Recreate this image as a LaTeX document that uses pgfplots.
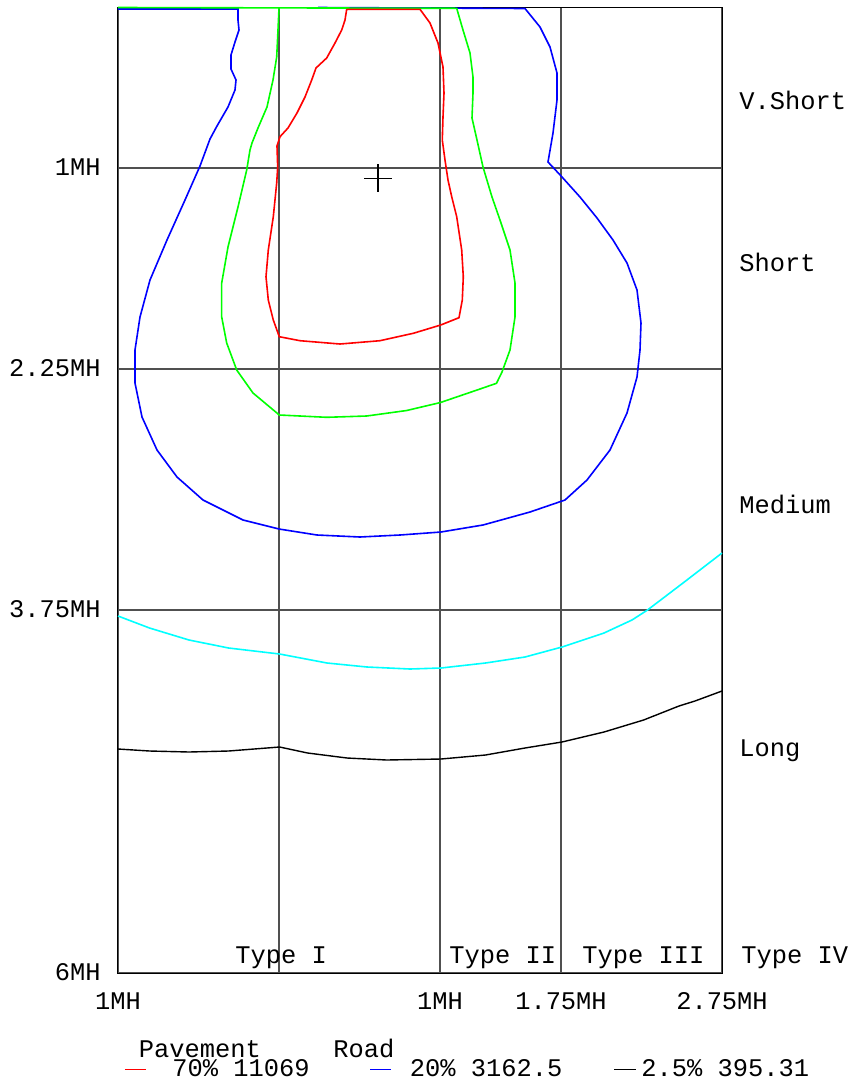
\documentclass[border=0pt]{standalone}
\usepackage{fontspec}
\setmainfont{Liberation Mono}
\usepackage{pgfplots}
\pgfplotsset{compat=1.18}
\definecolor{gridgray}{RGB}{80,80,80}
\definecolor{cyanline}{RGB}{0,255,255}
\definecolor{greenline}{RGB}{0,255,0}
\definecolor{redline}{RGB}{255,0,0}
\definecolor{blueline}{RGB}{0,0,255}
\begin{document}
\begin{tikzpicture}
\begin{axis}[
  scale only axis, width=302pt, height=483pt,
  xmin=118, xmax=722, ymin=7, ymax=973, y dir=reverse,
  enlargelimits=false, clip=false,
  axis line style={black, line width=0.5pt},
  xtick={118,440,561,722}, xticklabels={1MH,1MH,1.75MH,2.75MH},
  ytick={168,369,610,973}, yticklabels={1MH,2.25MH,3.75MH,6MH},
  extra x ticks={279}, extra x tick labels={},
  extra tick style={grid=major, major tick length=0pt},
  major tick length=0pt,
  grid=major, major grid style={gridgray, line width=0.7pt},
  ticklabel style={font=\fontsize{12.7}{15}\selectfont, inner sep=0pt},
  xticklabel style={anchor=base, yshift=-18pt},
  yticklabel style={anchor=base east, xshift=-8.5pt, yshift=-3.5pt},
]
% 2.5% contour (black)
\addplot[black, line width=0.7pt] coordinates {
(118,749) (149.5,751) (189,752) (228.6,751) (279.6,747) (307.6,753) (347,758) (386.7,760) (441,759) (485.5,755) (525,748) (562,742) (604,732) (643.6,720) (679,706) (695,701) (722,691)};
% cyan contour
\addplot[cyanline, line width=0.8pt] coordinates {
(118,616) (149.5,628) (189,640) (228.6,648) (279.6,654) (327,663) (367,667) (410,669) (441,668) (485.5,663) (525,657) (562,647) (604,633) (632,620) (647.5,610) (683,583) (722,553)};
% 20% contour (blue)
\addplot[blueline, line width=0.8pt] coordinates {
(118,9) (238,9) (238,20) (239,30) (235,42) (231,55) (231,69) (236,80) (235,90) (228,107) (217,126) (210,139) (200,166) (185,200) (167,240) (150,280) (140,317) (135,350) (135,383) (142,417) (157,450) (177,477) (203,500) (243,520) (279,529) (317,535) (360,537) (400,535) (441,532) (483,525) (530,512) (565,500) (587,480) (610,450) (627,413) (637,377) (640,350) (641,323) (637,290) (627,263) (613,240) (597,218) (580,197) (562,177) (548,162) (553,133) (557,100) (557,73) (550,47) (540,27) (525,8.5) (318,7.5)};
% green contour
\addplot[greenline, line width=0.8pt] coordinates {
(118,7.5) (456.7,8.3) (463,30) (470,53) (473,77) (473,93) (472,118) (477,140) (483,167) (492,197) (500,220) (510,250) (515,283) (515,317) (510,350) (502,372) (496.5,383.3) (480,389) (440.5,402.5) (406.7,410.5) (366.7,416) (326.7,417.3) (279.3,415) (253,393) (236.7,370) (226.7,343) (221.7,317) (221.7,283) (228,247) (238,207) (246.7,170) (250,150) (252,143) (258,128) (267,107) (273,80) (276.7,57) (278,30) (279,8)};
% 70% contour (red)
\addplot[redline, line width=0.8pt] coordinates {
(346.7,9.3) (345,20) (341.7,30) (335,43) (326.7,58) (316,68) (311.7,80) (305,97) (297,113) (288,128) (280,136.7) (277,146) (277.7,167) (276.7,183) (273.3,216.7) (268.3,250) (266,276.7) (268.3,300) (273.3,320) (279.3,336.7) (300,340.7) (340,344) (380,340.7) (413.3,333.3) (440.7,325) (459,317.7) (462.3,300) (463.3,276.7) (461.7,250) (456.7,216.7) (451.7,196.7) (448,180) (445,160) (442.3,140) (443,117) (444,93) (443,67) (438,43) (430,23) (420,9.3) (346.7,9.3)};
% luminaire position
\addplot[black, only marks, mark=+, mark size=7pt, mark options={line width=0.6pt}] coordinates {(378,178.3)};
% labels
\begin{scope}[every node/.style={font=\fontsize{12.7}{15}\selectfont, inner sep=0pt}]
\node[anchor=base west] at (axis cs:739,109) {V.Short};
\node[anchor=base west] at (axis cs:739,271) {Short};
\node[anchor=base west] at (axis cs:739,513) {Medium};
\node[anchor=base west] at (axis cs:739,756) {Long};
\node[anchor=base west] at (axis cs:235,963) {Type I};
\node[anchor=base west] at (axis cs:449,963) {Type II};
\node[anchor=base west] at (axis cs:582,963) {Type III};
\node[anchor=base west] at (axis cs:741,963) {Type IV};
\node[anchor=base west] at (axis cs:138.5,1057.5) {Pavement};
\node[anchor=base west] at (axis cs:333,1057.5) {Road};
\node[anchor=base west] at (axis cs:172,1076.5) {70\% 11069};
\node[anchor=base west] at (axis cs:409.5,1076.5) {20\% 3162.5};
\node[anchor=base west] at (axis cs:641,1076.5) {2.5\% 395.31};
\end{scope}
\draw[redline, line width=0.7pt] (axis cs:125,1069.3) -- (axis cs:146.5,1069.3);
\draw[blueline, line width=0.7pt] (axis cs:370,1069.3) -- (axis cs:390.5,1069.3);
\draw[black, line width=0.7pt] (axis cs:614,1069.3) -- (axis cs:636,1069.3);
\path (axis cs:0,0) rectangle (axis cs:851,1082);
\end{axis}
\end{tikzpicture}
\end{document}
